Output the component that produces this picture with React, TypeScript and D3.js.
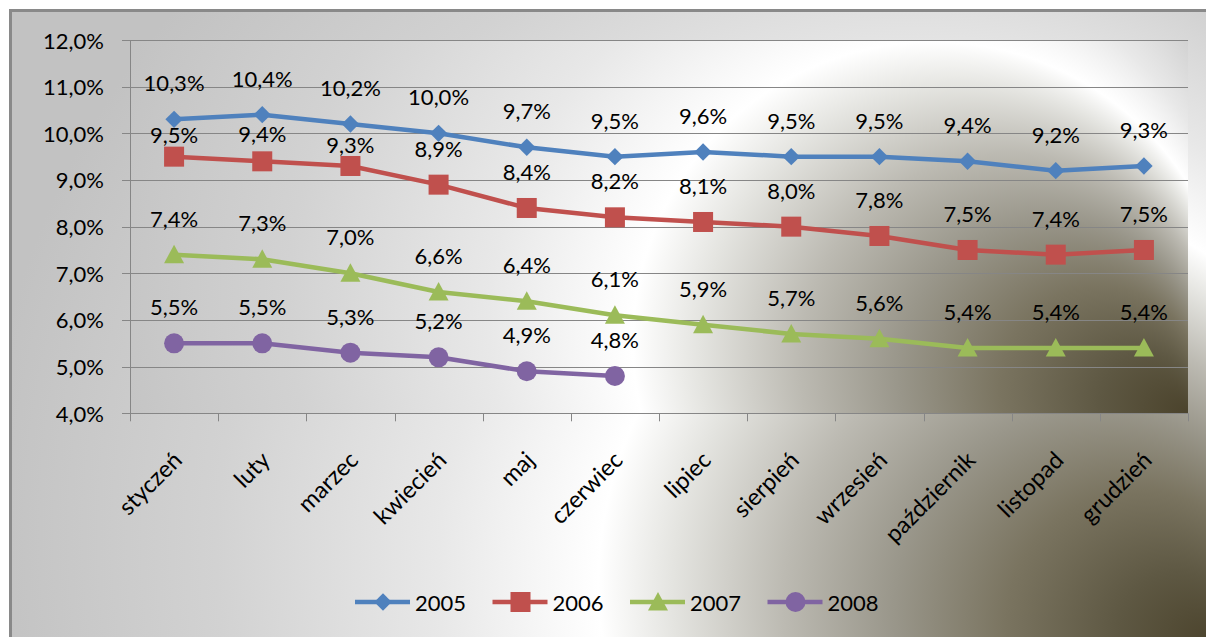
import React from "react";
import * as d3 from "d3";

const months = ["styczeń", "luty", "marzec", "kwiecień", "maj", "czerwiec", "lipiec", "sierpień", "wrzesień", "październik", "listopad", "grudzień"];
const years = ["2005", "2006", "2007", "2008"];
const values2005 = [10.3, 10.4, 10.2, 10.0, 9.7, 9.5, 9.6, 9.5, 9.5, 9.4, 9.2, 9.3];
const values2006 = [9.5, 9.4, 9.3, 8.9, 8.4, 8.2, 8.1, 8.0, 7.8, 7.5, 7.4, 7.5];
const values2007 = [7.4, 7.3, 7.0, 6.6, 6.4, 6.1, 5.9, 5.7, 5.6, 5.4, 5.4, 5.4];
const values2008 = [5.5, 5.5, 5.3, 5.2, 4.9, 4.8];
const yTicks = [4, 5, 6, 7, 8, 9, 10, 11, 12];

const seriesValues = [values2005, values2006, values2007, values2008];
const colors = ["#4f81bd", "#c0504d", "#9bbb59", "#8064a2"];
const markerTypes = ["diamond", "square", "triangle", "circle"];

// label lift (px above point); a few labels were nudged in the original
const labelLift = 36.5;
const labelLiftOverrides: Record<string, number> = { "1-0": 22, "1-1": 28, "1-2": 21 };

const FONT = "Lato, 'Open Sans', sans-serif";
const fmt = (v: number) => v.toFixed(1).replace(".", ",") + "%";

const plot = { left: 130, right: 1188, top: 40, bottom: 413.3 };

const gradStops: [number, string][] = [
  [0, "#4b432c"],
  [0.08, "#5e5843"],
  [0.17, "#7a7460"],
  [0.26, "#99968a"],
  [0.35, "#bcbab2"],
  [0.44, "#e4e4e0"],
  [0.5, "#ffffff"],
  [0.63, "#e8e8e8"],
  [0.81, "#d2d2d2"],
  [1, "#c2c2c2"],
];

function Marker({ type, x, y, color }: { type: string; x: number; y: number; color: string }) {
  if (type === "diamond") {
    const h = 8.7;
    return <path d={`M${x},${y - h}L${x + h},${y}L${x},${y + h}L${x - h},${y}Z`} fill={color} />;
  }
  if (type === "square") {
    return <rect x={x - 10} y={y - 10} width={20} height={20} fill={color} />;
  }
  if (type === "triangle") {
    return <path d={`M${x},${y - 10}L${x + 10},${y + 8.5}L${x - 10},${y + 8.5}Z`} fill={color} />;
  }
  return <circle cx={x} cy={y} r={10} fill={color} />;
}

export default function App() {
  const x = d3.scaleBand<string>().domain(months).range([plot.left, plot.right]).paddingInner(0).paddingOuter(0);
  const y = d3.scaleLinear().domain([4, 12]).range([plot.bottom, plot.top]);
  const cx = (m: string) => (x(m) as number) + x.bandwidth() / 2;
  const line = d3
    .line<number>()
    .x((_, i) => cx(months[i]))
    .y((v) => y(v));

  const boundaries = d3.range(months.length + 1).map((i) => plot.left + i * x.bandwidth());

  const legendY = 602;
  const legendX0 = 383;
  const legendStep = 137.5;

  return (
    <svg width={1206} height={637} style={{ position: "absolute", left: 0, top: 0 }} fontFamily={FONT}>
      <defs>
        <radialGradient id="outerBg" gradientUnits="userSpaceOnUse" cx={770} cy={525} r={788} fx={1215} fy={645}>
          {gradStops.map(([o, c]) => (
            <stop key={o} offset={o} stopColor={c} />
          ))}
        </radialGradient>
        <radialGradient id="plotBg" gradientUnits="userSpaceOnUse" cx={678} cy={271} r={600} fx={1188} fy={413}>
          {gradStops.map(([o, c]) => (
            <stop key={o} offset={o} stopColor={c} />
          ))}
        </radialGradient>
      </defs>
      <rect x={0} y={0} width={1206} height={637} fill="#ffffff" />
      <rect x={10.5} y={10.5} width={1230} height={660} fill="url(#outerBg)" stroke="#898989" strokeWidth={3} />
      <rect x={plot.left} y={plot.top} width={plot.right - plot.left} height={plot.bottom - plot.top} fill="url(#plotBg)" />

      {/* gridlines */}
      {yTicks.map((t) => (
        <g key={t}>
          <line x1={122} x2={plot.right} y1={Math.round(y(t)) + 0.5} y2={Math.round(y(t)) + 0.5} stroke="#868686" strokeWidth={1} />
          <text x={104} y={y(t)} textAnchor="end" dominantBaseline="central" fontSize={22} fill="#000">
            {fmt(t)}
          </text>
        </g>
      ))}
      {/* y axis */}
      <line x1={plot.left + 0.5} x2={plot.left + 0.5} y1={plot.top} y2={plot.bottom} stroke="#868686" strokeWidth={1} />
      {/* x ticks */}
      {boundaries.map((b, i) => (
        <line key={i} x1={Math.round(b) + 0.5} x2={Math.round(b) + 0.5} y1={plot.bottom} y2={plot.bottom + 8} stroke="#868686" strokeWidth={1} />
      ))}
      {/* x labels */}
      {months.map((m) => (
        <text
          key={m}
          transform={`translate(${cx(m) + 3},${plot.bottom + 42}) rotate(-45)`}
          textAnchor="end"
          dominantBaseline="central"
          fontSize={23.5}
          fill="#000"
        >
          {m}
        </text>
      ))}

      {/* series */}
      {seriesValues.map((vals, si) => (
        <g key={years[si]}>
          <path d={line(vals) || ""} fill="none" stroke={colors[si]} strokeWidth={4.5} strokeLinejoin="round" strokeLinecap="round" />
          {vals.map((v, i) => (
            <Marker key={i} type={markerTypes[si]} x={cx(months[i])} y={y(v)} color={colors[si]} />
          ))}
        </g>
      ))}
      {/* data labels */}
      {seriesValues.map((vals, si) =>
        vals.map((v, i) => {
          const lift = labelLiftOverrides[`${si}-${i}`] ?? labelLift;
          return (
            <text key={`${si}-${i}`} x={cx(months[i])} y={y(v) - lift} textAnchor="middle" dominantBaseline="central" fontSize={22} fill="#000">
              {fmt(v)}
            </text>
          );
        })
      )}

      {/* legend */}
      {years.map((yr, i) => {
        const mx = legendX0 + i * legendStep;
        return (
          <g key={yr}>
            <line x1={mx - 28} x2={mx + 27} y1={legendY} y2={legendY} stroke={colors[i]} strokeWidth={4.5} />
            <Marker type={markerTypes[i]} x={mx} y={legendY} color={colors[i]} />
            <text x={mx + 32} y={legendY} dominantBaseline="central" fontSize={22} fill="#000">
              {yr}
            </text>
          </g>
        );
      })}
    </svg>
  );
}
